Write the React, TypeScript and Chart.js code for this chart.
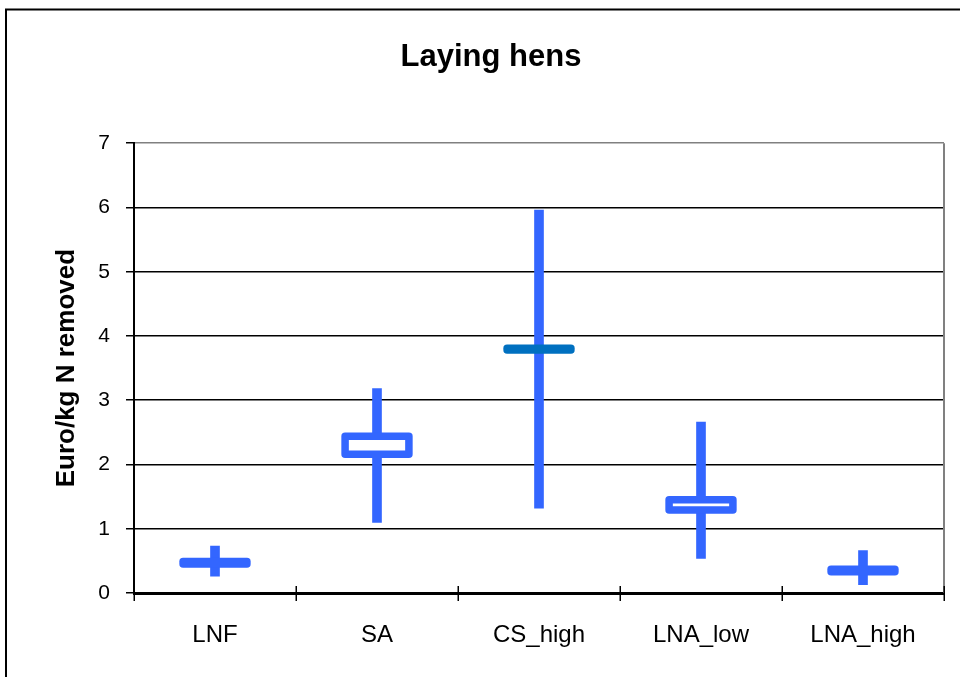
import React, { useEffect, useRef } from "react";
import { Chart, registerables } from "chart.js";

Chart.register(...registerables);

const categories = ["LNF", "SA", "CS_high", "LNA_low", "LNA_high"];
const whiskerLow = [0.26, 1.1, 1.32, 0.54, 0.13];
const whiskerHigh = [0.73, 3.18, 5.96, 2.66, 0.66];
const boxLow = [0.45, 2.16, 3.78, 1.29, 0.33];
const boxHigh = [0.49, 2.44, 3.81, 1.45, 0.37];
const boxColors = ["#3366FF", "#3366FF", "#0070C0", "#3366FF", "#3366FF"];
const yTicks = [0, 1, 2, 3, 4, 5, 6, 7];

const FONT = "'Liberation Sans', Arial, sans-serif";

const decorPlugin = {
  id: "decor",
  beforeDraw(chart: any) {
    const ctx = chart.ctx;
    ctx.save();
    ctx.strokeStyle = "#000";
    ctx.lineWidth = 2;
    ctx.strokeRect(6, 9.5, 3000, 3000);
    ctx.restore();
  },
  afterDatasetsDraw(chart: any) {
    const { ctx, chartArea } = chart;
    const x = chart.scales.x;
    const y = chart.scales.y;
    ctx.save();
    // right plot-area border
    ctx.strokeStyle = "#808080";
    ctx.lineWidth = 2;
    ctx.beginPath();
    ctx.moveTo(chartArea.right, chartArea.top);
    ctx.lineTo(chartArea.right, chartArea.bottom);
    ctx.stroke();
    // boxes
    const step = x.getPixelForValue(1) - x.getPixelForValue(0);
    const half = step * 0.197;
    ctx.lineWidth = 7.5;
    ctx.lineJoin = "round";
    for (let i = 0; i < categories.length; i++) {
      const cx = x.getPixelForValue(i);
      const top = y.getPixelForValue(boxHigh[i]);
      const bot = y.getPixelForValue(boxLow[i]);
      ctx.fillStyle = "#FFFFFF";
      ctx.fillRect(cx - half, top, half * 2, bot - top);
      ctx.strokeStyle = boxColors[i];
      ctx.strokeRect(cx - half, top, half * 2, bot - top);
    }
    // x tick marks crossing axis
    ctx.strokeStyle = "#000";
    ctx.lineWidth = 1.5;
    for (let i = 0; i <= categories.length; i++) {
      const px = Math.round(x.getPixelForValue(i - 0.5)) + 0.25;
      ctx.beginPath();
      ctx.moveTo(px, chartArea.bottom - 7);
      ctx.lineTo(px, chartArea.bottom + 8);
      ctx.stroke();
    }
    ctx.restore();
  },
};

export default function App() {
  const canvasRef = useRef<HTMLCanvasElement | null>(null);

  useEffect(() => {
    const canvas = canvasRef.current;
    if (!canvas) return;
    const chart = new Chart(canvas, {
      type: "bar",
      data: {
        labels: categories,
        datasets: [
          {
            data: categories.map((_, i) => [whiskerLow[i], whiskerHigh[i]]) as any,
            backgroundColor: "#3366FF",
            borderWidth: 0,
            barThickness: 9,
          },
        ],
      },
      options: {
        responsive: false,
        animation: false,
        layout: { padding: { left: 38, right: 16, top: 0, bottom: 0 } },
        plugins: {
          legend: { display: false },
          tooltip: { enabled: false },
          title: {
            display: true,
            text: "Laying hens",
            color: "#000",
            font: { family: FONT, size: 31, weight: "bold" },
            padding: { top: 39, bottom: 67 },
          },
        },
        scales: {
          x: {
            afterFit: (scale: any) => {
              scale.height = 84;
            },
            grid: { display: false, drawTicks: false },
            border: { display: true, color: "#000", width: 3 },
            ticks: {
              color: "#000",
              font: { family: FONT, size: 24 },
              padding: 28,
              maxRotation: 0,
            },
          },
          y: {
            min: 0,
            max: 7,
            afterFit: (scale: any) => {
              scale.width = 96;
            },
            afterBuildTicks: (scale: any) => {
              scale.ticks = yTicks.map((v) => ({ value: v }));
            },
            grid: {
              color: (c: any) => (c.tick && c.tick.value === 7 ? "#808080" : "#000"),
              tickColor: "#000",
              lineWidth: 1.5,
              drawTicks: true,
              tickLength: 8,
            },
            border: { display: true, color: "#000", width: 2 },
            ticks: {
              color: "#000",
              font: { family: FONT, size: 21 },
              padding: 16,
            },
            title: {
              display: true,
              text: "Euro/kg N removed",
              color: "#000",
              font: { family: FONT, size: 26, weight: "bold" },
              padding: { top: 13, bottom: 0 },
            },
          },
        },
      },
      plugins: [decorPlugin],
    });
    return () => chart.destroy();
  }, []);

  return (
    <div style={{ position: "absolute", left: 0, top: 0, width: 960, height: 677, overflow: "hidden", background: "#fff" }}>
      <canvas ref={canvasRef} width={960} height={677} style={{ display: "block" }} />
    </div>
  );
}
